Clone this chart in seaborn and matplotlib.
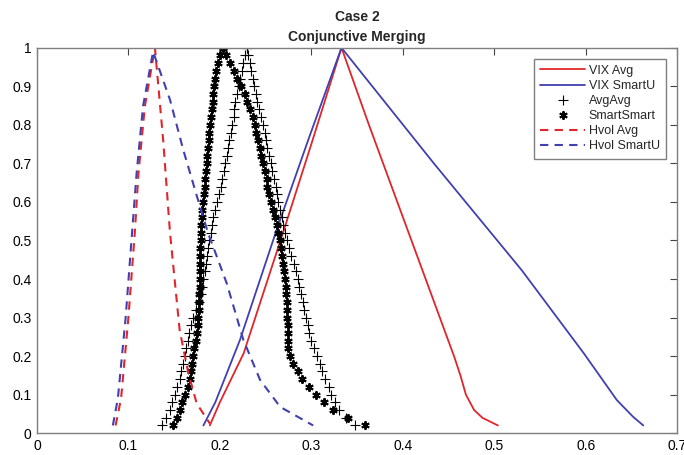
import numpy as np
import pandas as pd
import matplotlib
matplotlib.use("Agg")
import matplotlib.pyplot as plt
import seaborn as sns

# alpha-cut levels (membership grade) shared by the marker series
alpha = [0.02, 0.04, 0.06, 0.08, 0.10, 0.12, 0.14, 0.16, 0.18, 0.20,
         0.22, 0.24, 0.26, 0.28, 0.30, 0.32, 0.34, 0.36, 0.38, 0.40,
         0.42, 0.44, 0.46, 0.48, 0.50, 0.52, 0.54, 0.56, 0.58, 0.60,
         0.62, 0.64, 0.66, 0.68, 0.70, 0.72, 0.74, 0.76, 0.78, 0.80,
         0.82, 0.84, 0.86, 0.88, 0.90, 0.92, 0.94, 0.96, 0.98, 1.00]

avgavg_left = [0.137, 0.141, 0.145, 0.148, 0.151, 0.153, 0.156, 0.158, 0.160, 0.162,
               0.163, 0.165, 0.166, 0.168, 0.171, 0.174, 0.177, 0.179, 0.181, 0.182,
               0.184, 0.185, 0.186, 0.187, 0.188, 0.190, 0.191, 0.193, 0.195, 0.197,
               0.199, 0.201, 0.202, 0.204, 0.206, 0.208, 0.209, 0.210, 0.212, 0.213,
               0.215, 0.216, 0.217, 0.219, 0.221, 0.222, 0.224, 0.225, 0.227, 0.230]
avgavg_right = [0.348, 0.338, 0.330, 0.326, 0.322, 0.319, 0.315, 0.312, 0.309, 0.306,
                0.303, 0.300, 0.298, 0.296, 0.294, 0.292, 0.291, 0.289, 0.287, 0.285,
                0.283, 0.281, 0.278, 0.276, 0.273, 0.271, 0.269, 0.268, 0.266, 0.264,
                0.263, 0.261, 0.259, 0.257, 0.256, 0.254, 0.252, 0.250, 0.249, 0.247,
                0.245, 0.243, 0.241, 0.239, 0.237, 0.236, 0.234, 0.233, 0.231, 0.230]
smart_left = [0.149, 0.153, 0.156, 0.159, 0.162, 0.165, 0.167, 0.168, 0.170, 0.171,
              0.172, 0.174, 0.175, 0.176, 0.176, 0.177, 0.177, 0.177, 0.178, 0.178,
              0.178, 0.178, 0.178, 0.178, 0.179, 0.179, 0.179, 0.180, 0.181, 0.182,
              0.183, 0.184, 0.184, 0.185, 0.186, 0.186, 0.187, 0.188, 0.188, 0.189,
              0.190, 0.191, 0.192, 0.193, 0.194, 0.195, 0.196, 0.198, 0.200, 0.203]
smart_right = [0.359, 0.340, 0.324, 0.314, 0.305, 0.298, 0.290, 0.285, 0.280, 0.277,
               0.275, 0.274, 0.274, 0.274, 0.273, 0.273, 0.273, 0.272, 0.272, 0.271,
               0.270, 0.269, 0.268, 0.267, 0.266, 0.264, 0.262, 0.260, 0.258, 0.256,
               0.254, 0.252, 0.251, 0.249, 0.247, 0.245, 0.244, 0.242, 0.240, 0.238,
               0.236, 0.233, 0.230, 0.227, 0.223, 0.219, 0.215, 0.211, 0.207, 0.203]

# solid / dashed membership functions: (x, y) vertices from left foot to right foot
vix_avg_x = [0.189, 0.200, 0.226, 0.247, 0.270, 0.300, 0.333,
             0.363, 0.394, 0.425, 0.456, 0.463, 0.469, 0.478, 0.487, 0.504]
vix_avg_y = [0.02, 0.08, 0.207, 0.36, 0.527, 0.75, 1.0,
             0.8, 0.6, 0.4, 0.2, 0.15, 0.1, 0.06, 0.04, 0.02]

vix_smart_x = [0.182, 0.195, 0.222, 0.262, 0.298, 0.333,
               0.434, 0.530, 0.598, 0.634, 0.652, 0.663]
vix_smart_y = [0.02, 0.08, 0.242, 0.527, 0.77, 1.0,
               0.70, 0.423, 0.207, 0.086, 0.042, 0.02]

hvol_avg_x = [0.086, 0.092, 0.100, 0.107, 0.111, 0.118, 0.129,
              0.138, 0.1455, 0.156, 0.1656, 0.1747, 0.189]
hvol_avg_y = [0.02, 0.09, 0.30, 0.52, 0.675, 0.848, 1.0,
              0.761, 0.52, 0.268, 0.155, 0.077, 0.025]

hvol_smart_x = [0.083, 0.0885, 0.097, 0.104, 0.109, 0.116, 0.127,
                0.1455, 0.160, 0.175, 0.187, 0.2075, 0.2257, 0.244, 0.266, 0.302]
hvol_smart_y = [0.02, 0.09, 0.30, 0.52, 0.675, 0.848, 0.99,
                0.865, 0.735, 0.614, 0.52, 0.389, 0.242, 0.138, 0.068, 0.02]

x_ticks = [0, 0.1, 0.2, 0.3, 0.4, 0.5, 0.6, 0.7]
x_tick_labels = ["0", "0.1", "0.2", "0.3", "0.4", "0.5", "0.6", "0.7"]
y_ticks = [0, 0.1, 0.2, 0.3, 0.4, 0.5, 0.6, 0.7, 0.8, 0.9, 1.0]
y_tick_labels = ["0", "0.1", "0.2", "0.3", "0.4", "0.5", "0.6", "0.7", "0.8", "0.9", "1"]

sns.set_theme(style="white")
plt.rcParams["font.family"] = ["Liberation Sans", "DejaVu Sans"]

RED = "#e0262c"
BLUE = "#4040b0"

fig = plt.figure(figsize=(6.84, 4.55), dpi=100)
ax = fig.add_axes([0.054, 0.048, 0.936, 0.847])


def curve(xs, ys):
    return pd.DataFrame({"x": xs, "y": ys})


def markers(left, right):
    return pd.DataFrame({"x": list(left) + list(right), "y": list(alpha) + list(alpha)})


sns.lineplot(data=curve(vix_avg_x, vix_avg_y), x="x", y="y", sort=False, estimator=None,
             color=RED, lw=1.3, ax=ax, label="VIX Avg")
sns.lineplot(data=curve(vix_smart_x, vix_smart_y), x="x", y="y", sort=False, estimator=None,
             color=BLUE, lw=1.3, ax=ax, label="VIX SmartU")
sns.lineplot(data=markers(avgavg_left, avgavg_right), x="x", y="y", sort=False, estimator=None,
             color="black", linestyle="", marker="+", markersize=7, markeredgewidth=0.8,
             markeredgecolor="black", ax=ax, label="AvgAvg")
sns.lineplot(data=markers(smart_left, smart_right), x="x", y="y", sort=False, estimator=None,
             color="black", linestyle="", marker=(6, 2, 0), markersize=6, markeredgewidth=1.4,
             markeredgecolor="black", ax=ax, label="SmartSmart")
sns.lineplot(data=curve(hvol_avg_x, hvol_avg_y), x="x", y="y", sort=False, estimator=None,
             color=RED, lw=1.5, dashes=(4, 3), ax=ax, label="Hvol Avg")
sns.lineplot(data=curve(hvol_smart_x, hvol_smart_y), x="x", y="y", sort=False, estimator=None,
             color=BLUE, lw=1.5, dashes=(4, 3), ax=ax, label="Hvol SmartU")

ax.set_xlim(0, 0.7)
ax.set_ylim(0, 1)
ax.set_xticks(x_ticks)
ax.set_xticklabels(x_tick_labels)
ax.set_yticks(y_ticks)
ax.set_yticklabels(y_tick_labels)
ax.set_xlabel("")
ax.set_ylabel("")
ax.tick_params(direction="in", length=5, width=0.8, top=True, right=True,
               labelsize=10, colors="#444444", labelcolor="black", pad=4)
for s in ax.spines.values():
    s.set_color("#7f7f7f")
    s.set_linewidth(1.0)

ax.set_title("Case 2\nConjunctive Merging", fontsize=10, fontweight="bold",
             linespacing=1.5, pad=5)

leg = ax.legend(loc="upper right", bbox_to_anchor=(0.983, 0.972), fontsize=9,
                handlelength=3.6, handletextpad=0.3, labelspacing=0.25,
                borderpad=0.5, fancybox=False, framealpha=1, edgecolor="#7f7f7f",
                borderaxespad=0)
leg.get_frame().set_linewidth(1.0)

fig.savefig("out.png", dpi=100)
